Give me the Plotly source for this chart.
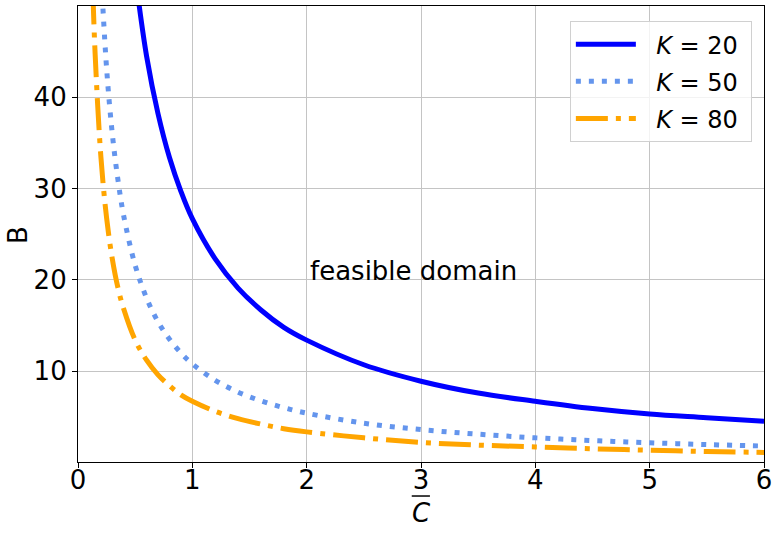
import plotly.graph_objects as go

# Values
x_k20 = [0.5, 0.6, 0.7, 0.8, 0.9, 1.0, 1.2, 1.4, 1.6, 1.8, 2.0, 2.5, 3.0, 3.5, 4.0, 4.5, 5.0, 5.5, 6.0]
y_k20 = [53.4, 44.5, 38.2, 33.4, 29.7, 26.7, 22.3, 19.1, 16.7, 14.8, 13.4, 10.7, 8.9, 7.6, 6.7, 5.9, 5.3, 4.9, 4.5]

x_k50 = [0.2, 0.25, 0.3, 0.35, 0.4, 0.5, 0.6, 0.7, 0.8, 0.9, 1.0, 1.2, 1.4, 1.6, 1.8, 2.0, 2.5, 3.0, 3.5, 4.0, 4.5, 5.0, 5.5, 6.0]
y_k50 = [54.0, 43.2, 36.0, 30.9, 27.0, 21.6, 18.0, 15.4, 13.5, 12.0, 10.8, 9.0, 7.7, 6.75, 6.0, 5.4, 4.3, 3.6, 3.1, 2.7, 2.4, 2.16, 1.96, 1.8]

x_k80 = [0.13, 0.15, 0.2, 0.25, 0.3, 0.35, 0.4, 0.5, 0.6, 0.7, 0.8, 0.9, 1.0, 1.2, 1.4, 1.6, 1.8, 2.0, 2.5, 3.0, 3.5, 4.0, 4.5, 5.0, 5.5, 6.0]
y_k80 = [51.5, 44.7, 33.5, 26.8, 22.3, 19.1, 16.8, 13.4, 11.2, 9.6, 8.4, 7.4, 6.7, 5.6, 4.8, 4.2, 3.7, 3.35, 2.7, 2.2, 1.9, 1.7, 1.5, 1.34, 1.2, 1.1]

series_names = ["\u00a0\u00a0<i>K</i> = 20\u00a0", "\u00a0\u00a0<i>K</i> = 50\u00a0", "\u00a0\u00a0<i>K</i> = 80\u00a0"]
x_ticks = [0, 1, 2, 3, 4, 5, 6]
y_ticks = [10, 20, 30, 40]

FONT = "DejaVu Sans"
FS = 26
GRID = "#c4c4c4"

fig = go.Figure()
fig.add_trace(go.Scatter(x=x_k20, y=y_k20, mode="lines", name=series_names[0], legendgroup="a",
                         line=dict(color="#0000ff", width=5, shape="spline")))
fig.add_trace(go.Scatter(x=x_k50, y=y_k50, mode="lines", name=series_names[1], legendgroup="b",
                         line=dict(color="#6495ed", width=5, dash="5px,8px", shape="spline")))
fig.add_trace(go.Scatter(x=x_k80, y=y_k80, mode="lines", name=series_names[2], legendgroup="c",
                         line=dict(color="#ffa500", width=5, dash="32px,8px,5px,8px", shape="spline")))

fig.add_annotation(x=2.93, y=21, text="feasible domain", showarrow=False,
                   font=dict(family=FONT, size=FS, color="black"))

# axis labels
fig.add_annotation(xref="paper", yref="paper", x=0.5, y=-0.112, text="<i>C</i>",
                   showarrow=False, xanchor="center", yanchor="middle",
                   font=dict(family=FONT, size=FS, color="black"))
fig.add_shape(type="line", xref="paper", yref="paper",
              x0=0.4865, x1=0.513, y0=-0.0746, y1=-0.0746,
              line=dict(color="black", width=1.5))
fig.add_annotation(xref="paper", yref="paper", x=-0.0875, y=0.498, text="B", textangle=-90,
                   showarrow=False, xanchor="center", yanchor="middle",
                   font=dict(family=FONT, size=FS, color="black"))

fig.update_layout(
    width=780, height=534,
    margin=dict(l=78, r=16, t=6, b=72),
    paper_bgcolor="white", plot_bgcolor="white",
    font=dict(family=FONT, size=FS, color="black"),
    showlegend=True,
    legend=dict(x=0.717, y=0.967, xanchor="left", yanchor="top",
                bgcolor="rgba(255,255,255,0.8)", bordercolor="#d0d0d0", borderwidth=1,
                font=dict(family=FONT, size=24), itemwidth=60,
                tracegroupgap=3),
    xaxis=dict(range=[0, 6], tickvals=x_ticks, showgrid=True, gridcolor=GRID, gridwidth=1,
               zeroline=False, showline=True, linecolor="black", linewidth=1.2, mirror=True,
               ticks="outside", ticklen=5, tickcolor="black", automargin=False,
               ticklabelstandoff=-10),
    yaxis=dict(range=[0.05, 50], tickvals=y_ticks, showgrid=True, gridcolor=GRID, gridwidth=1,
               zeroline=False, showline=True, linecolor="black", linewidth=1.2, mirror=True,
               ticks="outside", ticklen=5, tickcolor="black", automargin=False),
)

fig.write_html("out.html", post_script="document.body.style.margin='0';",
               config={"displayModeBar": False})
